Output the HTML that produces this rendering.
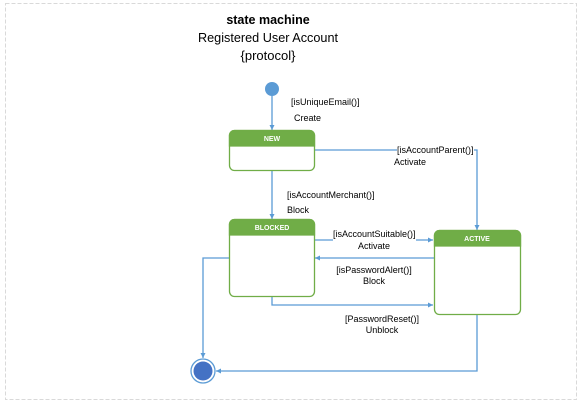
<!DOCTYPE html>
<html><head><meta charset="utf-8"><style>
html,body{margin:0;padding:0;background:#fff;}
svg{display:block;}
text{font-family:"Liberation Sans",sans-serif;}
</style></head><body>
<svg width="582" height="409" viewBox="0 0 582 409" xmlns="http://www.w3.org/2000/svg">
<defs>
<marker id="a" markerWidth="6" markerHeight="6" refX="5" refY="3" orient="auto" markerUnits="userSpaceOnUse">
<path d="M0,0.5 L5,3 L0,5.5 Z" fill="#5b9bd5"/></marker>
</defs>
<rect x="5.5" y="3.5" width="571" height="396" fill="none" stroke="#d9d9d9" stroke-dasharray="4,2"/>
<text x="268" y="24" font-size="12.5" font-weight="bold" text-anchor="middle">state machine</text>
<text x="268" y="42" font-size="13" text-anchor="middle" textLength="140" lengthAdjust="spacingAndGlyphs">Registered User Account</text>
<text x="268" y="60" font-size="13" text-anchor="middle">{protocol}</text>

<g stroke="#5b9bd5" stroke-width="1.3" fill="none">
<line x1="272" y1="96" x2="272" y2="130" marker-end="url(#a)"/>
<polyline points="314,150 397,150"/>
<polyline points="474,150 477,150 477,230" marker-end="url(#a)"/>
<line x1="272" y1="170" x2="272" y2="219" marker-end="url(#a)"/>
<polyline points="314,240 333,240"/>
<polyline points="416,240 433,240" marker-end="url(#a)"/>
<line x1="434" y1="258" x2="315" y2="258" marker-end="url(#a)"/>
<polyline points="272,296 272,305 433,305" marker-end="url(#a)"/>
<polyline points="229,258 203,258 203,358" marker-end="url(#a)"/>
<polyline points="477,314 477,371 216,371" marker-end="url(#a)"/>
</g>

<circle cx="272" cy="89" r="7" fill="#5b9bd5"/>
<circle cx="203" cy="371" r="12" fill="#fff" stroke="#5b9bd5" stroke-width="1.3"/>
<circle cx="203" cy="371" r="9.5" fill="#4472c4"/>

<g font-size="9" fill="#000">
<text x="291" y="105">[isUniqueEmail()]</text>
<text x="294" y="121">Create</text>
<text x="397" y="153">[isAccountParent()]</text>
<text x="394" y="165">Activate</text>
<text x="287" y="198">[isAccountMerchant()]</text>
<text x="287" y="213">Block</text>
<text x="333" y="237">[isAccountSuitable()]</text>
<text x="374" y="249" text-anchor="middle">Activate</text>
<text x="374" y="273" text-anchor="middle">[isPasswordAlert()]</text>
<text x="374" y="284" text-anchor="middle">Block</text>
<text x="382" y="322" text-anchor="middle">[PasswordReset()]</text>
<text x="382" y="333" text-anchor="middle">Unblock</text>
</g>

<g stroke="#70ad47" stroke-width="1.3">
<rect x="229.5" y="130.5" width="85" height="40" rx="5" fill="#fff"/>
<path d="M229.5,146 V135.5 a5,5 0 0 1 5,-5 H309.5 a5,5 0 0 1 5,5 V146 Z" fill="#70ad47"/>
<rect x="229.5" y="219.5" width="85" height="77" rx="5" fill="#fff"/>
<path d="M229.5,235 V224.5 a5,5 0 0 1 5,-5 H309.5 a5,5 0 0 1 5,5 V235 Z" fill="#70ad47"/>
<rect x="434.5" y="230.5" width="86" height="84" rx="5" fill="#fff"/>
<path d="M434.5,246 V235.5 a5,5 0 0 1 5,-5 H515.5 a5,5 0 0 1 5,5 V246 Z" fill="#70ad47"/>
</g>
<g font-size="7" font-weight="bold" fill="#fff" text-anchor="middle">
<text x="272" y="141">NEW</text>
<text x="272" y="230">BLOCKED</text>
<text x="477" y="241">ACTIVE</text>
</g>
</svg>
</body></html>
